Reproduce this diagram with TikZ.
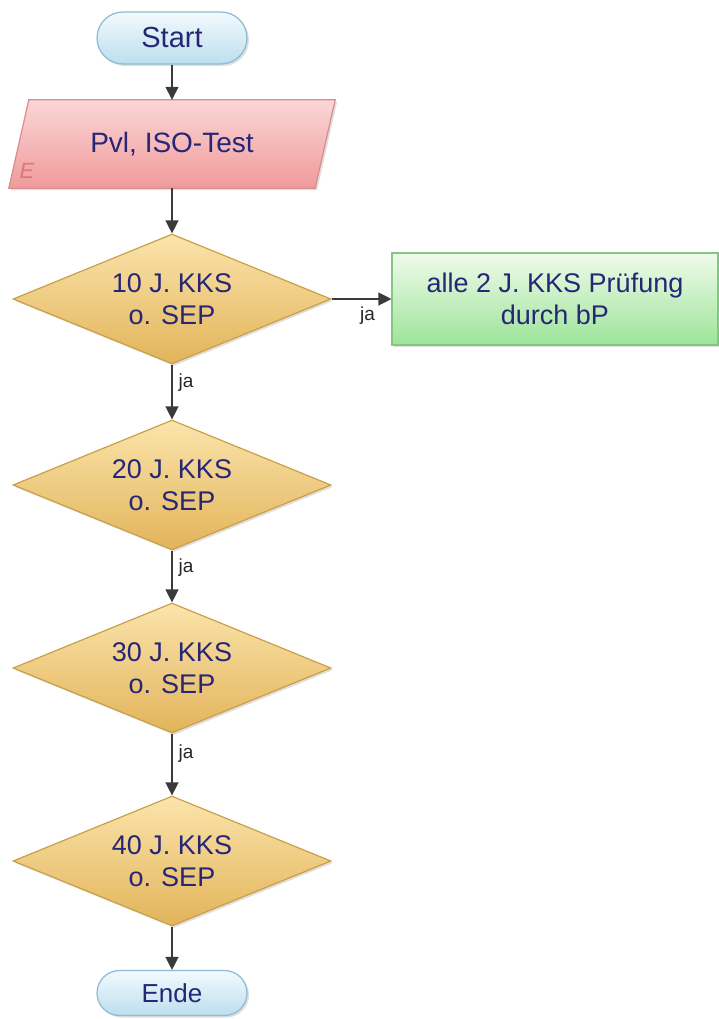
\documentclass[tikz,border=0pt]{standalone}
\usepackage{fontspec}
\setmainfont{Liberation Sans}
\usetikzlibrary{arrows.meta,shapes.geometric,shapes.misc,shadows,backgrounds}

\definecolor{navytxt}{HTML}{262675}
\definecolor{termtop}{HTML}{F2FAFD}
\definecolor{termbot}{HTML}{BCDFEE}
\definecolor{termline}{HTML}{8DBAD3}
\definecolor{iotop}{HTML}{FBD6D6}
\definecolor{iobot}{HTML}{F09A9A}
\definecolor{ioline}{HTML}{D98C8C}
\definecolor{iomark}{HTML}{DB7878}
\definecolor{dectop}{HTML}{FBE4AC}
\definecolor{decbot}{HTML}{E2B45A}
\definecolor{decline}{HTML}{C9A048}
\definecolor{proctop}{HTML}{EFFBEB}
\definecolor{procbot}{HTML}{9DE499}
\definecolor{procline}{HTML}{86C683}
\definecolor{flowline}{HTML}{3A3A3A}

\begin{document}
\begin{tikzpicture}[x=1pt,y=1pt,
    txt/.style={text=navytxt, font=\fontsize{27}{32}\selectfont, align=center},
    shade/.style={drop shadow={opacity=0.25, shadow xshift=2pt, shadow yshift=-2pt}},
    term/.style={txt, shade, rounded rectangle, draw=termline, line width=1.2pt,
      top color=termtop, bottom color=termbot, minimum width=150pt, inner sep=0pt,
      font=\fontsize{29}{32}\selectfont},
    iotext/.style={txt, rectangle, minimum width=304pt, minimum height=88pt, inner sep=0pt,
      font=\fontsize{28}{32}\selectfont},
    iobox/.style={shade, draw=ioline, line width=1.2pt, top color=iotop, bottom color=iobot},
    decide/.style={txt, shade, diamond, aspect=2.45, draw=decline, line width=1.2pt, top color=dectop,
      bottom color=decbot, minimum width=318pt, minimum height=130pt, inner sep=0pt},
    proc/.style={txt, shade, rectangle, draw=procline, line width=1.2pt, top color=proctop,
      bottom color=procbot, minimum width=326pt, minimum height=92pt, inner sep=0pt},
    flow/.style={draw=flowline, line width=1.4pt, -{Triangle[length=13pt,width=13pt]}},
    jalbl/.style={font=\fontsize{19}{22}\selectfont, text=black!85, inner sep=2pt}
  ]
  \useasboundingbox (0,0) rectangle (718,-1019);

  % Ablauf
  \node[term, minimum height=52pt] (start) at (172,-38) {Start};
  \node[iotext] (pvi) at (172,-144) {Pvl, ISO-Test};
  \begin{pgfonlayer}{background}
    \path[iobox] ([xshift=-11pt]pvi.south west) -- ([xshift=9pt]pvi.north west)
      -- ([xshift=11pt]pvi.north east) -- ([xshift=-9pt]pvi.south east) -- cycle;
  \end{pgfonlayer}
  \node[text=iomark, font=\fontsize{22}{22}\selectfont\itshape] (pvie) at (27,-171) {E};
  \node[decide] (d10) at (172,-299) {10 J. KKS\\o. SEP};
  \node[proc] (pruef) at (555,-299) {alle 2 J. KKS Prüfung\\durch bP};
  \node[decide] (d20) at (172,-485) {20 J. KKS\\o. SEP};
  \node[decide] (d30) at (172,-668) {30 J. KKS\\o. SEP};
  \node[decide] (d40) at (172,-861) {40 J. KKS\\o. SEP};
  \node[term, minimum height=45pt, font=\fontsize{26}{30}\selectfont] (ende) at (172,-993) {Ende};

  % Verbindungen
  \draw[flow] (start.south) -- (pvi.north);
  \draw[flow] (pvi.south) -- (d10.north);
  \draw[flow] (d10.east) -- node[jalbl, pos=0.6, below=5pt] {ja} (pruef.west);
  \draw[flow] (d10.south) -- node[jalbl, pos=0.32, right=4pt] {ja} (d20.north);
  \draw[flow] (d20.south) -- node[jalbl, pos=0.32, right=4pt] {ja} (d30.north);
  \draw[flow] (d30.south) -- node[jalbl, pos=0.32, right=4pt] {ja} (d40.north);
  \draw[flow] (d40.south) -- (ende.north);
\end{tikzpicture}
\end{document}
